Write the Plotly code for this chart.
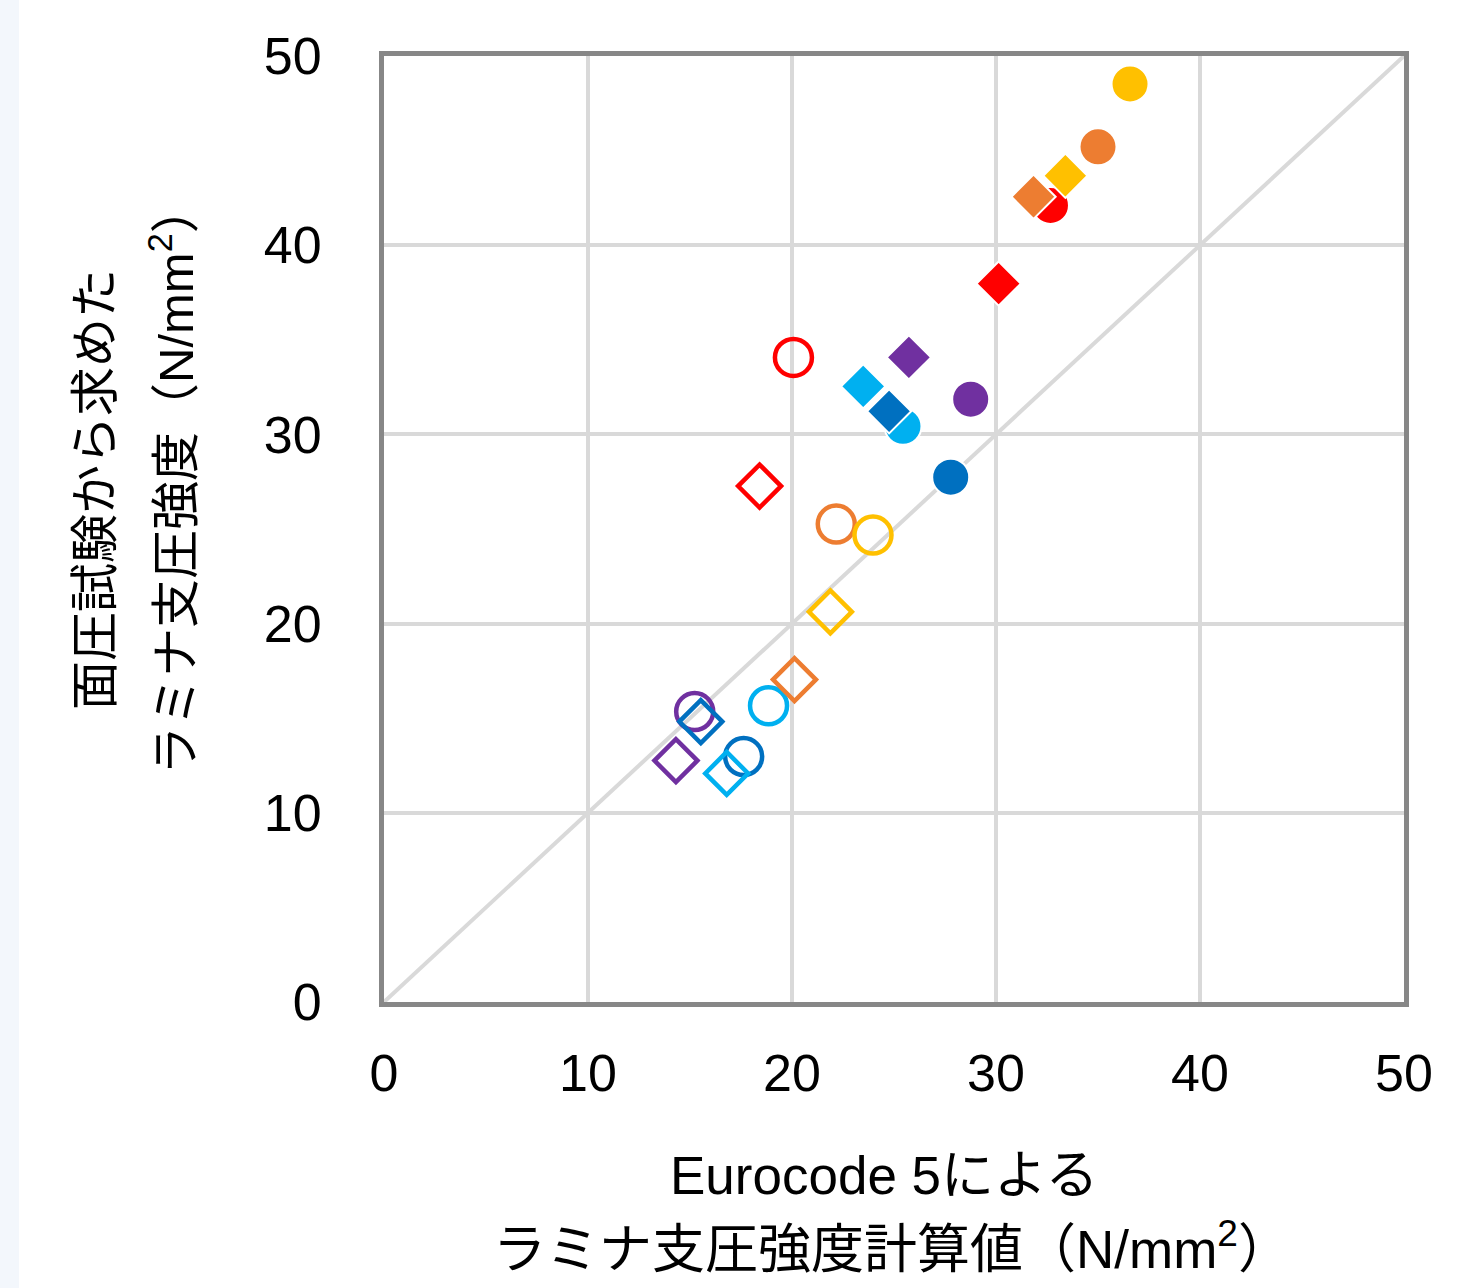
import plotly.graph_objects as go

# ---- data ----
color_names = ["red", "orange", "yellow", "light blue", "dark blue", "purple"]
palette = ["#FF0000", "#ED7D31", "#FFC000", "#00B0F0", "#0070C0", "#7030A0"]

open_circle_x = [20.07, 22.17, 23.97, 18.85, 17.63, 15.23]
open_circle_y = [34.07, 25.26, 24.68, 15.66, 12.97, 15.35]

open_diamond_x = [18.41, 20.12, 21.88, 16.80, 15.53, 14.31]
open_diamond_y = [27.27, 17.04, 20.62, 12.08, 14.82, 12.76]

filled_circle_x = [32.67, 35.00, 36.57, 25.44, 27.78, 28.76]
filled_circle_y = [42.10, 45.20, 48.52, 30.43, 27.74, 31.86]

filled_diamond_x = [30.13, 31.84, 33.40, 23.49, 24.76, 25.73]
filled_diamond_y = [37.97, 42.56, 43.67, 32.54, 31.22, 34.07]

diag = [0, 50]
tick_vals = [0, 10, 20, 30, 40, 50]

x_title_lines = ["Eurocode 5による", "ラミナ支圧強度計算値（N/mm<sup>2</sup>）"]
y_title_lines = ["面圧試験から求めた", "ラミナ支圧強度（N/mm<sup>2</sup>）"]

FONT = "Liberation Sans, Arial, Noto Sans CJK JP, sans-serif"

W, H = 1481, 1288
L, R, T, B = 384, 77, 56, 286
pw, ph = W - L - R, H - T - B


def px_x(px):
    return (px - L) / pw


def px_y(py):
    return (H - B - py) / ph


fig = go.Figure()

# y = x reference line
fig.add_trace(go.Scatter(x=diag, y=diag, mode="lines",
                         line=dict(color="#D9D9D9", width=4),
                         hoverinfo="skip", showlegend=False))

fig.add_trace(go.Scatter(
    x=open_circle_x, y=open_circle_y, mode="markers", showlegend=False,
    text=color_names,
    marker=dict(symbol="circle-open", size=37, color=palette,
                line=dict(width=4.5, color=palette))))

fig.add_trace(go.Scatter(
    x=open_diamond_x, y=open_diamond_y, mode="markers", showlegend=False,
    text=color_names,
    marker=dict(symbol="diamond-open", size=33, color=palette,
                line=dict(width=4.5, color=palette))))

fig.add_trace(go.Scatter(
    x=filled_circle_x, y=filled_circle_y, mode="markers", showlegend=False,
    text=color_names,
    marker=dict(symbol="circle", size=37, color=palette,
                line=dict(width=2, color="white"))))

fig.add_trace(go.Scatter(
    x=filled_diamond_x, y=filled_diamond_y, mode="markers", showlegend=False,
    text=color_names,
    marker=dict(symbol="diamond", size=34, color=palette,
                line=dict(width=2, color="white"))))

axis_common = dict(
    range=[0, 50], tickvals=tick_vals, ticktext=[str(v) for v in tick_vals],
    showgrid=True, gridcolor="#D9D9D9", gridwidth=4,
    zeroline=False, showline=True, linecolor="#878787", linewidth=5,
    mirror=True, ticks="outside", tickcolor="rgba(0,0,0,0)",
    tickfont=dict(family=FONT, size=52, color="#000000"),
    fixedrange=True,
)

fig.update_xaxes(**axis_common, ticklen=22)
fig.update_yaxes(**axis_common, ticklen=47)

annotations = [
    dict(text=x_title_lines[0], x=px_x(884), y=px_y(1175), size=53),
    dict(text=x_title_lines[1], x=px_x(892), y=px_y(1245), size=53),
    dict(text=y_title_lines[0], x=px_x(95), y=px_y(490), textangle=-90, size=49),
    dict(text=y_title_lines[1], x=px_x(172), y=px_y(480), textangle=-90, size=49),
]
for a in annotations:
    s = a.pop("size")
    a.update(xref="paper", yref="paper", showarrow=False,
             xanchor="center", yanchor="middle",
             font=dict(family=FONT, size=s, color="#000000"))

fig.update_layout(
    width=W, height=H,
    margin=dict(l=L, r=R, t=T, b=B, pad=0),
    paper_bgcolor="white", plot_bgcolor="white",
    annotations=annotations,
    shapes=[dict(type="rect", xref="paper", yref="paper",
                 x0=px_x(0), x1=px_x(19), y0=px_y(H + 5), y1=px_y(-5),
                 fillcolor="#F3F7FC", line=dict(width=0), layer="below")],
)

fig.write_html("out.html", config={"displayModeBar": False})
